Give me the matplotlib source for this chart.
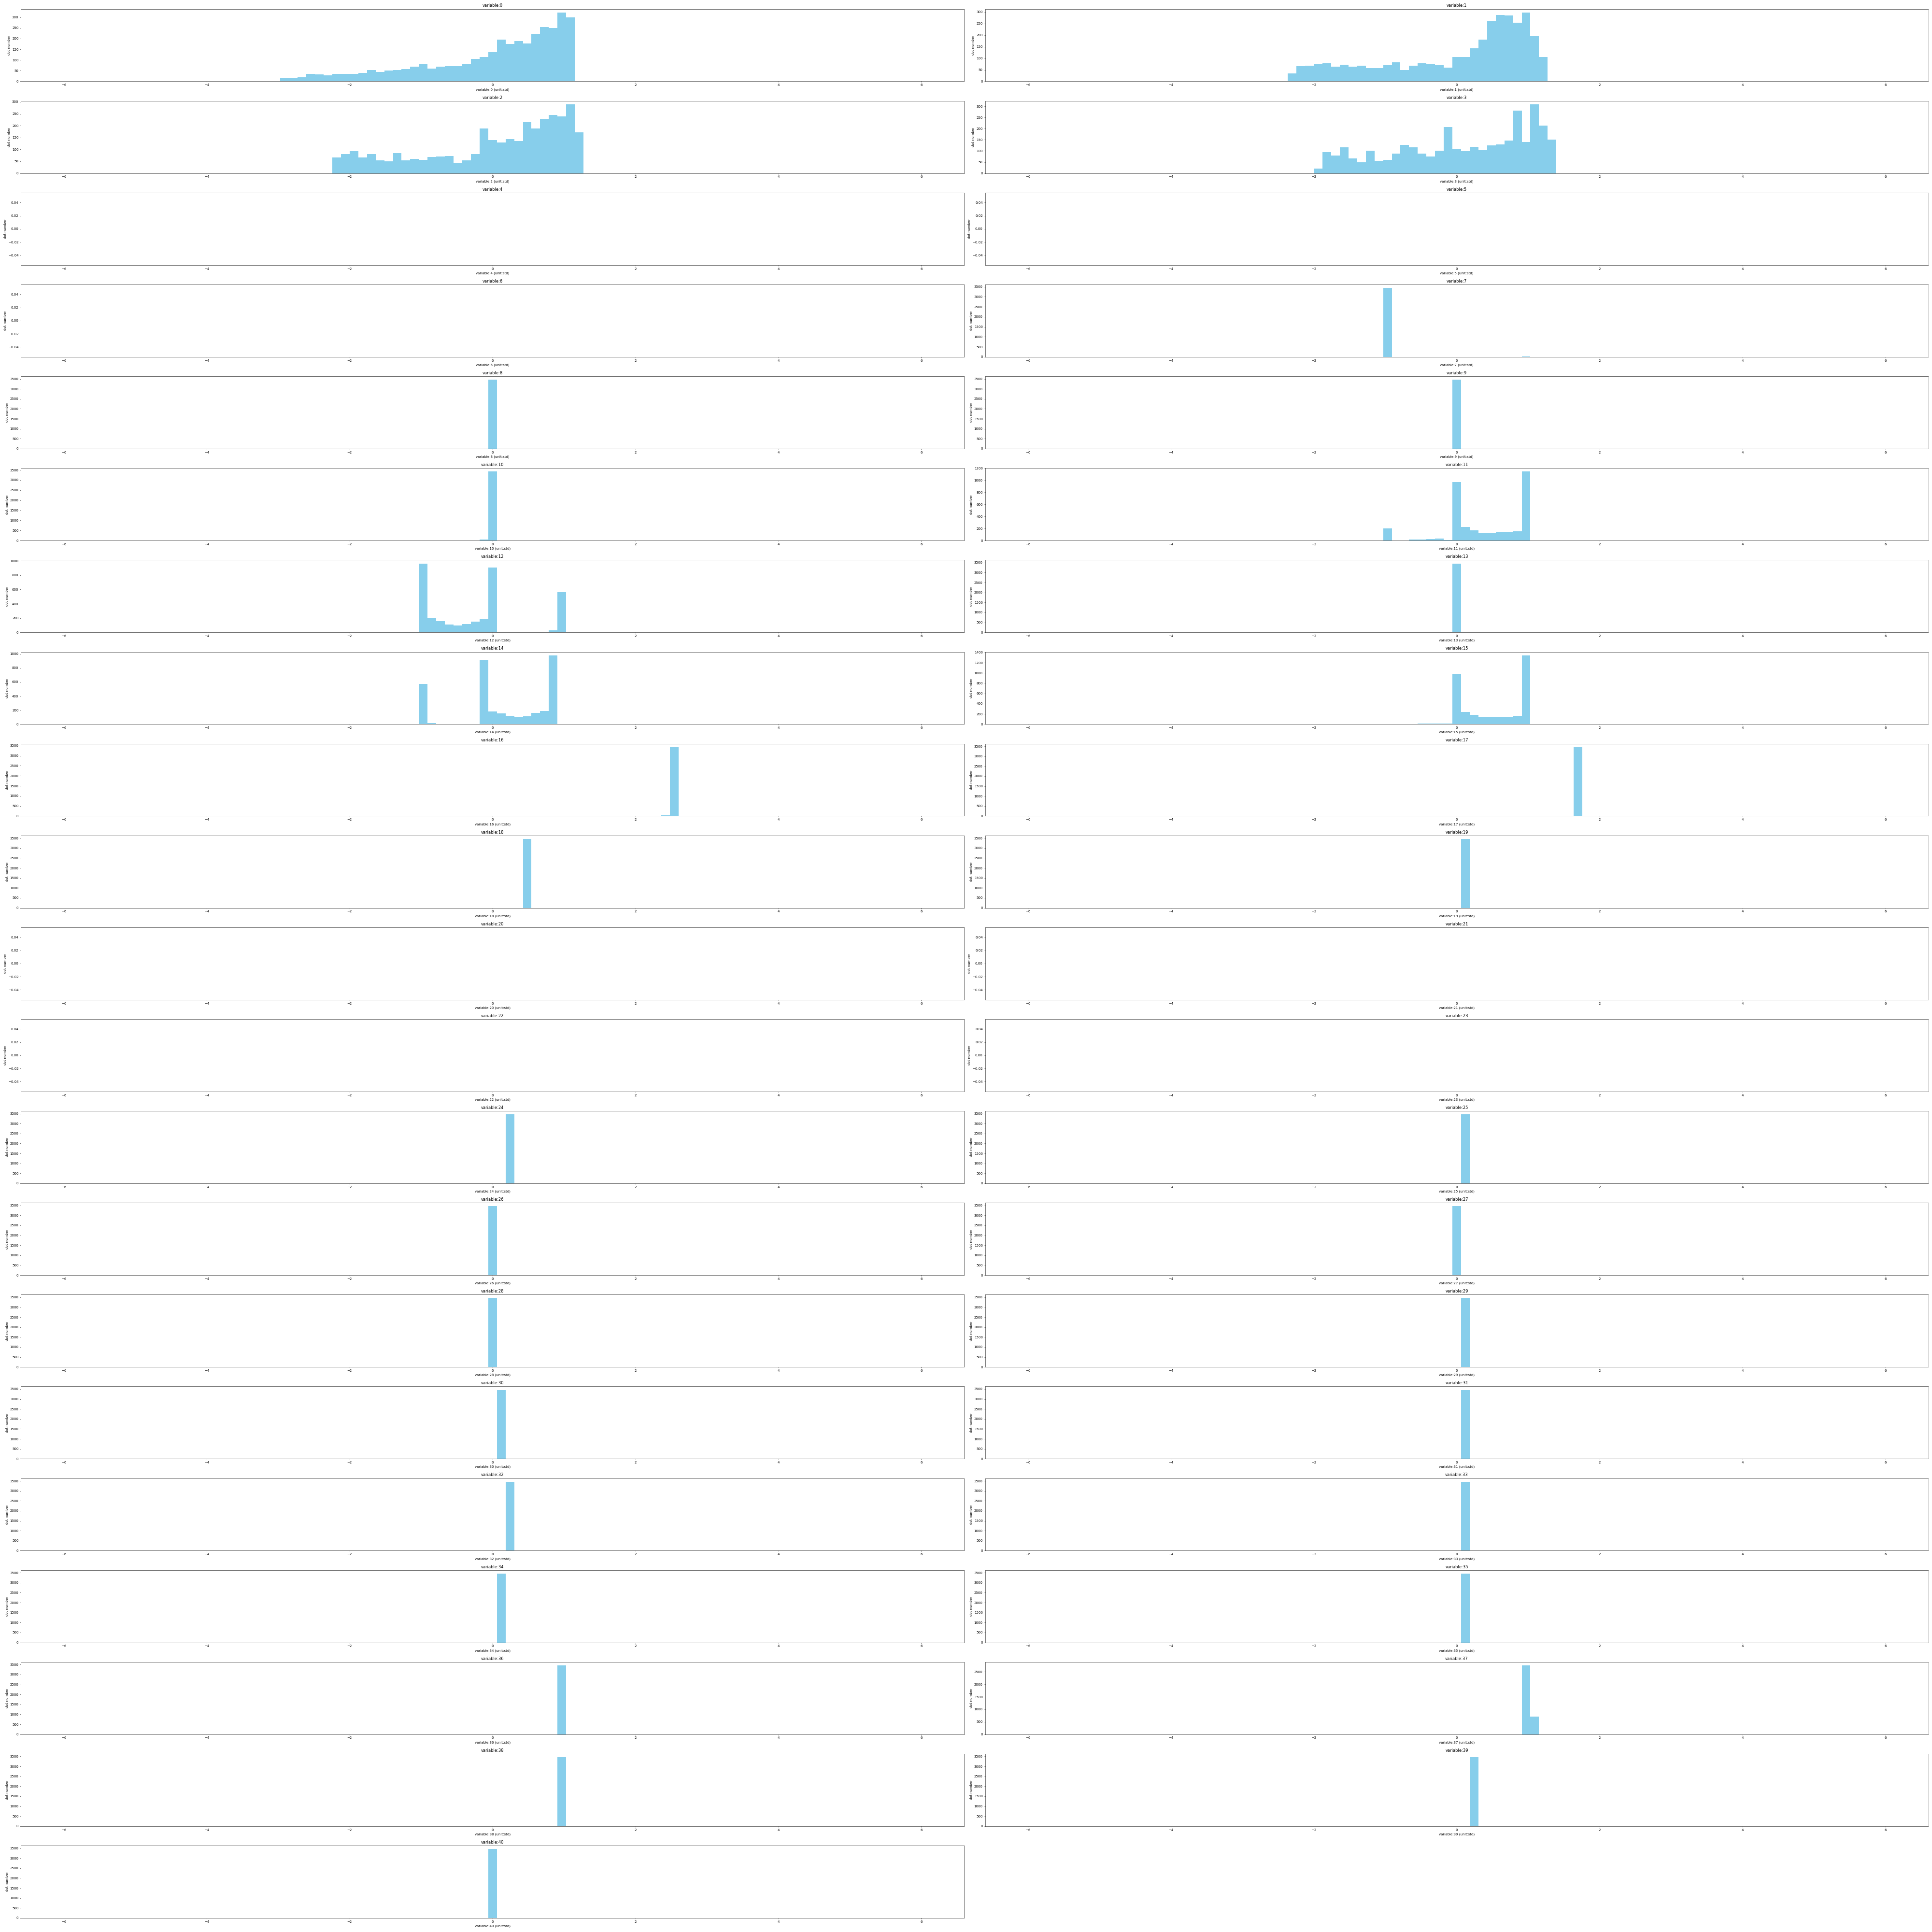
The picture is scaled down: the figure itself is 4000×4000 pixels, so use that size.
import numpy as np
import matplotlib
matplotlib.use("Agg")
import matplotlib.pyplot as plt

# histogram bins shared by every variable (values in std units)
bin_edges = np.linspace(-6, 6, 100)
bin_centers = (bin_edges[:-1] + bin_edges[1:]) / 2

# counts per variable: index of the first non-empty bin, then the counts from there
counts_0 = [2, 16, 16, 19, 36, 32, 28, 34, 34, 34, 39, 52, 43, 50, 52, 57, 68, 79, 59,
            68, 70, 72, 79, 106, 115, 137, 195, 175, 188, 177, 222, 253, 249, 322, 300]
counts_1 = [34, 65, 67, 75, 79, 63, 73, 63, 67, 57, 57, 69, 83, 50, 67, 79, 75, 69, 59,
            106, 106, 143, 181, 259, 288, 286, 253, 298, 197, 106]
counts_2 = [67, 81, 93, 67, 81, 55, 51, 85, 55, 61, 57, 69, 71, 73, 41, 55, 81, 188,
            139, 129, 143, 135, 214, 188, 228, 246, 240, 290, 172]
counts_3 = [20, 95, 80, 116, 67, 50, 101, 56, 59, 89, 127, 116, 89, 74, 101, 206, 108,
            99, 119, 104, 124, 129, 146, 281, 139, 309, 213, 151]
counts_7 = [3440, 0, 0, 0, 0, 0, 0, 0, 0, 0, 0, 0, 0, 0, 0, 0, 20]
counts_8 = [3460]
counts_9 = [3460]
counts_10 = [40, 3420]
counts_11 = [200, 0, 0, 20, 20, 28, 33, 12, 973, 225, 168, 121, 121, 144, 144, 152, 1145]
counts_12 = [965, 196, 156, 109, 96, 116, 150, 182, 905, 0, 0, 0, 0, 0, 9, 29, 564]
counts_13 = [3460]
counts_14 = [571, 15, 0, 0, 0, 0, 0, 912, 184, 150, 116, 95, 109, 157, 190, 980]
counts_15 = [12, 15, 15, 12, 982, 234, 179, 133, 133, 149, 149, 159, 1345]
counts_16 = [30, 3430]
counts_17 = [3460]
counts_18 = [3460]
counts_19 = [3460]
counts_24 = [3460]
counts_25 = [3460]
counts_26 = [3460]
counts_27 = [3460]
counts_28 = [3460]
counts_29 = [3460]
counts_30 = [3460]
counts_31 = [3460]
counts_32 = [3460]
counts_33 = [3460]
counts_34 = [3460]
counts_35 = [3460]
counts_36 = [3460]
counts_37 = [2760, 700]
counts_38 = [3460]
counts_39 = [3460]
counts_40 = [3460]

# variable -> (first bin, counts); variables 4, 5, 6, 20-23 hold no data in range
first_bin = {0: 24, 1: 30, 2: 31, 3: 33, 7: 41, 8: 49, 9: 49, 10: 48, 11: 41, 12: 41,
             13: 49, 14: 41, 15: 45, 16: 69, 17: 63, 18: 53, 19: 50, 24: 51, 25: 50,
             26: 49, 27: 49, 28: 49, 29: 50, 30: 50, 31: 50, 32: 51, 33: 50, 34: 50,
             35: 50, 36: 57, 37: 57, 38: 57, 39: 51, 40: 49}
var_counts = {0: counts_0, 1: counts_1, 2: counts_2, 3: counts_3, 7: counts_7, 8: counts_8,
              9: counts_9, 10: counts_10, 11: counts_11, 12: counts_12, 13: counts_13,
              14: counts_14, 15: counts_15, 16: counts_16, 17: counts_17, 18: counts_18,
              19: counts_19, 24: counts_24, 25: counts_25, 26: counts_26, 27: counts_27,
              28: counts_28, 29: counts_29, 30: counts_30, 31: counts_31, 32: counts_32,
              33: counts_33, 34: counts_34, 35: counts_35, 36: counts_36, 37: counts_37,
              38: counts_38, 39: counts_39, 40: counts_40}
n_vars = 41

fig, axes = plt.subplots(21, 2, figsize=(80, 80))
axes = axes.flatten()

for i in range(n_vars):
    ax = axes[i]
    weights = np.zeros(len(bin_centers))
    if i in var_counts:
        c = var_counts[i]
        s = first_bin[i]
        weights[s:s + len(c)] = c
    ax.hist(bin_centers, bins=bin_edges, weights=weights, color="skyblue")
    ax.set_title(f"variable:{i}")
    ax.set_xlabel(f"variable:{i} (unit:std)")
    ax.set_ylabel("dot number")

fig.delaxes(axes[41])
plt.tight_layout()
plt.savefig("out.png", dpi=50)
